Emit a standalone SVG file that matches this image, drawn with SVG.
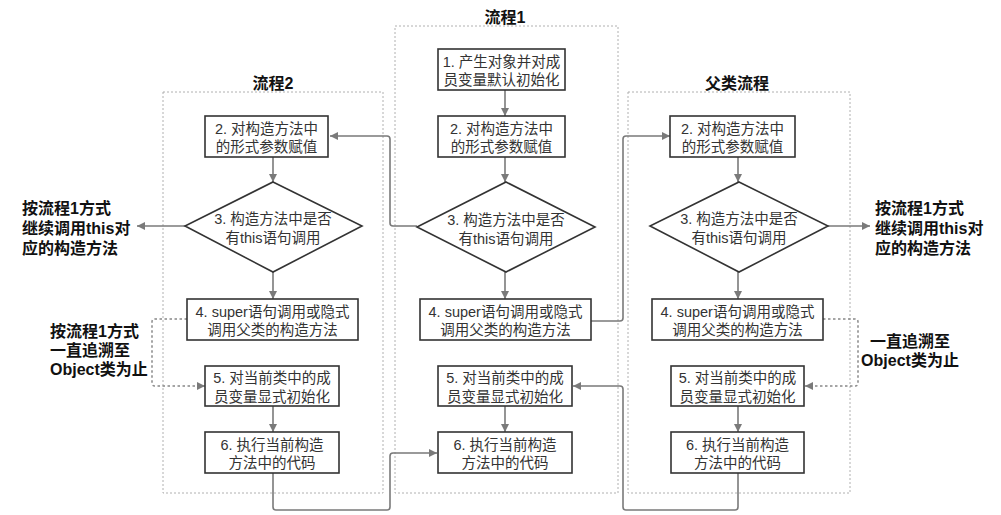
<svg xmlns="http://www.w3.org/2000/svg" width="1001" height="515" viewBox="0 0 1001 515">
<defs>
<marker id="ah" viewBox="0 0 10 10" refX="10" refY="5" markerWidth="8" markerHeight="8" markerUnits="userSpaceOnUse" orient="auto">
<path d="M0,0 L10,5 L0,10 z" fill="#7a7a7a"/>
</marker>
<style>
.cont{fill:none;stroke:#b0b0b0;stroke-width:1;stroke-dasharray:2,2}
.box{fill:#fff;stroke:#333;stroke-width:1.6}
.t{font-family:"Liberation Sans","Noto Sans CJK SC",sans-serif;font-size:14.5px;fill:#333;text-anchor:middle}
.title{font-family:"Liberation Sans","Noto Sans CJK SC",sans-serif;font-size:16px;font-weight:bold;fill:#111;text-anchor:middle}
.lab{font-family:"Liberation Sans","Noto Sans CJK SC",sans-serif;font-size:16px;font-weight:bold;fill:#111}
.c{fill:none;stroke:#7a7a7a;stroke-width:1.6;stroke-linejoin:round;marker-end:url(#ah)}
.d{fill:none;stroke:#888;stroke-width:1.5;stroke-dasharray:2.5,2.5;marker-end:url(#ah)}
</style>
</defs>
<rect width="1001" height="515" fill="#fff"/>
<g id="containers">
<rect class="cont" x="395" y="26" width="223" height="467"/>
<rect class="cont" x="163" y="92" width="220" height="401"/>
<rect class="cont" x="628" y="92" width="222" height="401"/>
<text class="title" x="505" y="23">流程1</text>
<text class="title" x="273" y="89">流程2</text>
<text class="title" x="737" y="89">父类流程</text>
</g>
<g id="connectors">
<path class="c" d="M505,90 V116"/>
<path class="c" d="M505,157 V182"/>
<path class="c" d="M505,272 V299"/>
<path class="c" d="M505,406 V432"/>
<path class="c" d="M273,157 V182"/>
<path class="c" d="M273,272 V299"/>
<path class="c" d="M273,406 V432"/>
<path class="c" d="M738,157 V182"/>
<path class="c" d="M738,272 V299"/>
<path class="c" d="M738,406 V432"/>
<path class="c" d="M417,226 H393 Q390,226 390,223 V139 Q390,136 387,136 H330"/>
<path class="c" d="M591,321 H620 Q623,321 623,318 V139 Q623,136 626,136 H670"/>
<path class="c" d="M273,473 V507 Q273,510 276,510 H387 Q390,510 390,507 V456 Q390,453 393,453 H437"/>
<path class="c" d="M738,473 V507 Q738,510 735,510 H626 Q623,510 623,507 V389 Q623,386 620,386 H573"/>
<path class="c" d="M185,226 H137"/>
<path class="c" d="M828,226 H870"/>
<path class="d" d="M187,319 H155 Q152,319 152,322 V383 Q152,386 155,386 H205"/>
<path class="d" d="M823,319 H855 Q858,319 858,322 V383 Q858,386 855,386 H805"/>
</g>
<g id="f1n1"><rect class="box" x="438" y="49" width="127" height="41"/><text class="t" x="501.5" y="66.5">1. 产生对象并对成</text><text class="t" x="501.5" y="85">员变量默认初始化</text></g>
<g id="f1n2"><rect class="box" x="438" y="116" width="127" height="41"/><text class="t" x="501.5" y="133.5">2. 对构造方法中</text><text class="t" x="501.5" y="152">的形式参数赋值</text></g>
<g id="f1n3"><polygon class="box" points="506,182 595,227 506,272 417,227"/><text class="t" x="506" y="225">3. 构造方法中是否</text><text class="t" x="506" y="243.5">有this语句调用</text></g>
<g id="f1n4"><rect class="box" x="420" y="299" width="171" height="41"/><text class="t" x="505.5" y="316.5">4. super语句调用或隐式</text><text class="t" x="505.5" y="335">调用父类的构造方法</text></g>
<g id="f1n5"><rect class="box" x="438" y="366" width="134" height="40"/><text class="t" x="505" y="383">5. 对当前类中的成</text><text class="t" x="505" y="401.5">员变量显式初始化</text></g>
<g id="f1n6"><rect class="box" x="438" y="432" width="134" height="41"/><text class="t" x="505" y="449.5">6. 执行当前构造</text><text class="t" x="505" y="468">方法中的代码</text></g>
<g id="f2n2"><rect class="box" x="205" y="116" width="123" height="41"/><text class="t" x="266.5" y="133.5">2. 对构造方法中</text><text class="t" x="266.5" y="152">的形式参数赋值</text></g>
<g id="f2n3"><polygon class="box" points="273,182 362,226 273,272 185,226"/><text class="t" x="273" y="224">3. 构造方法中是否</text><text class="t" x="273" y="242.5">有this语句调用</text></g>
<g id="f2n4"><rect class="box" x="187" y="299" width="171" height="41"/><text class="t" x="272.5" y="316.5">4. super语句调用或隐式</text><text class="t" x="272.5" y="335">调用父类的构造方法</text></g>
<g id="f2n5"><rect class="box" x="205" y="366" width="134" height="40"/><text class="t" x="272" y="383">5. 对当前类中的成</text><text class="t" x="272" y="401.5">员变量显式初始化</text></g>
<g id="f2n6"><rect class="box" x="205" y="432" width="134" height="41"/><text class="t" x="272" y="449.5">6. 执行当前构造</text><text class="t" x="272" y="468">方法中的代码</text></g>
<g id="pn2"><rect class="box" x="670" y="116" width="125" height="41"/><text class="t" x="732.5" y="133.5">2. 对构造方法中</text><text class="t" x="732.5" y="152">的形式参数赋值</text></g>
<g id="pn3"><polygon class="box" points="739,182 828,226 739,272 650,226"/><text class="t" x="739" y="224">3. 构造方法中是否</text><text class="t" x="739" y="242.5">有this语句调用</text></g>
<g id="pn4"><rect class="box" x="652" y="299" width="171" height="41"/><text class="t" x="737.5" y="316.5">4. super语句调用或隐式</text><text class="t" x="737.5" y="335">调用父类的构造方法</text></g>
<g id="pn5"><rect class="box" x="671" y="366" width="133" height="40"/><text class="t" x="737.5" y="383">5. 对当前类中的成</text><text class="t" x="737.5" y="401.5">员变量显式初始化</text></g>
<g id="pn6"><rect class="box" x="671" y="432" width="133" height="41"/><text class="t" x="737.5" y="449.5">6. 执行当前构造</text><text class="t" x="737.5" y="468">方法中的代码</text></g>
<g id="labelLeft"><text class="lab" x="22" y="214">按流程1方式</text><text class="lab" x="22" y="234">继续调用this对</text><text class="lab" x="22" y="254">应的构造方法</text></g>
<g id="labelRight"><text class="lab" x="875" y="214">按流程1方式</text><text class="lab" x="875" y="234">继续调用this对</text><text class="lab" x="875" y="254">应的构造方法</text></g>
<g id="labelLeftDot"><text class="lab" x="50" y="337">按流程1方式</text><text class="lab" x="50" y="356">一直追溯至</text><text class="lab" x="50" y="375">Object类为止</text></g>
<g id="labelRightDot"><text class="lab" x="910" y="347" text-anchor="middle">一直追溯至</text><text class="lab" x="910" y="366" text-anchor="middle">Object类为止</text></g>
</svg>
